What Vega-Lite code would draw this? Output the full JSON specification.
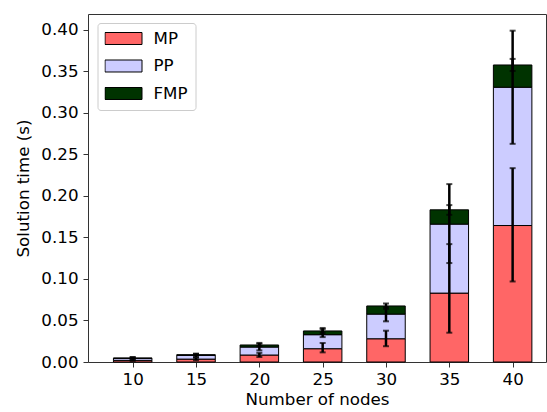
{
  "$schema": "https://vega.github.io/schema/vega-lite/v6.json",
  "width": 458,
  "height": 348,
  "autosize": {"type": "none"},
  "padding": {"left": 88, "top": 14, "right": 1, "bottom": 50},
  "config": {
    "font": "DejaVu Sans",
    "view": {"stroke": "#333333", "strokeWidth": 1},
    "axis": {
      "grid": false,
      "domain": false,
      "tickColor": "#333333",
      "tickSize": 5,
      "tickWidth": 1,
      "labelFontSize": 16.7,
      "labelColor": "black",
      "labelFont": "DejaVu Sans",
      "titleFontSize": 16.7,
      "titleFontWeight": "normal",
      "titleColor": "black",
      "titleFont": "DejaVu Sans"
    }
  },
  "datasets": {
    "bars": [
      {"nodes": 10, "part": "MP", "k": 1, "time": 0.0020},
      {"nodes": 10, "part": "PP", "k": 2, "time": 0.0023},
      {"nodes": 10, "part": "FMP", "k": 3, "time": 0.0006},
      {"nodes": 15, "part": "MP", "k": 1, "time": 0.0035},
      {"nodes": 15, "part": "PP", "k": 2, "time": 0.0045},
      {"nodes": 15, "part": "FMP", "k": 3, "time": 0.0008},
      {"nodes": 20, "part": "MP", "k": 1, "time": 0.0084},
      {"nodes": 20, "part": "PP", "k": 2, "time": 0.0096},
      {"nodes": 20, "part": "FMP", "k": 3, "time": 0.0025},
      {"nodes": 25, "part": "MP", "k": 1, "time": 0.0160},
      {"nodes": 25, "part": "PP", "k": 2, "time": 0.0169},
      {"nodes": 25, "part": "FMP", "k": 3, "time": 0.0045},
      {"nodes": 30, "part": "MP", "k": 1, "time": 0.0280},
      {"nodes": 30, "part": "PP", "k": 2, "time": 0.0297},
      {"nodes": 30, "part": "FMP", "k": 3, "time": 0.0098},
      {"nodes": 35, "part": "MP", "k": 1, "time": 0.0830},
      {"nodes": 35, "part": "PP", "k": 2, "time": 0.0831},
      {"nodes": 35, "part": "FMP", "k": 3, "time": 0.0172},
      {"nodes": 40, "part": "MP", "k": 1, "time": 0.1644},
      {"nodes": 40, "part": "PP", "k": 2, "time": 0.1666},
      {"nodes": 40, "part": "FMP", "k": 3, "time": 0.0268}
    ],
    "err": [
      {"nodes": 10, "part": "MP", "lo": 0.0012, "hi": 0.0028},
      {"nodes": 10, "part": "PP", "lo": 0.0030, "hi": 0.0056},
      {"nodes": 10, "part": "FMP", "lo": 0.0045, "hi": 0.0060},
      {"nodes": 15, "part": "MP", "lo": 0.0020, "hi": 0.0050},
      {"nodes": 15, "part": "PP", "lo": 0.0060, "hi": 0.0100},
      {"nodes": 15, "part": "FMP", "lo": 0.0080, "hi": 0.0098},
      {"nodes": 20, "part": "MP", "lo": 0.0060, "hi": 0.0110},
      {"nodes": 20, "part": "PP", "lo": 0.0140, "hi": 0.0220},
      {"nodes": 20, "part": "FMP", "lo": 0.0190, "hi": 0.0230},
      {"nodes": 25, "part": "MP", "lo": 0.0116, "hi": 0.0229},
      {"nodes": 25, "part": "PP", "lo": 0.0300, "hi": 0.0395},
      {"nodes": 25, "part": "FMP", "lo": 0.0350, "hi": 0.0410},
      {"nodes": 30, "part": "MP", "lo": 0.0190, "hi": 0.0377},
      {"nodes": 30, "part": "PP", "lo": 0.0490, "hi": 0.0660},
      {"nodes": 30, "part": "FMP", "lo": 0.0640, "hi": 0.0705},
      {"nodes": 35, "part": "MP", "lo": 0.0353, "hi": 0.1420},
      {"nodes": 35, "part": "PP", "lo": 0.1192, "hi": 0.2143},
      {"nodes": 35, "part": "FMP", "lo": 0.1773, "hi": 0.1890},
      {"nodes": 40, "part": "MP", "lo": 0.0970, "hi": 0.2335},
      {"nodes": 40, "part": "PP", "lo": 0.2628, "hi": 0.3991},
      {"nodes": 40, "part": "FMP", "lo": 0.3506, "hi": 0.3651}
    ]
  },
  "layer": [
    {
      "data": {"name": "bars"},
      "mark": {"type": "bar", "size": 38.5, "stroke": "black", "strokeWidth": 1},
      "encoding": {
        "x": {
          "field": "nodes", "type": "quantitative", "title": "Number of nodes",
          "scale": {"domain": [6.865, 42.24], "nice": false, "zero": false},
          "axis": {"values": [10, 15, 20, 25, 30, 35, 40], "labelPadding": 4, "titlePadding": 4, "labelFlush": false}
        },
        "y": {
          "field": "time", "type": "quantitative", "stack": "zero", "title": "Solution time (s)",
          "scale": {"domain": [0, 0.4192], "nice": false},
          "axis": {"values": [0, 0.05, 0.1, 0.15, 0.2, 0.25, 0.3, 0.35, 0.4], "format": ".2f", "labelPadding": 5, "titlePadding": 8}
        },
        "color": {
          "field": "part", "type": "nominal",
          "sort": ["MP", "PP", "FMP"],
          "scale": {"domain": ["MP", "PP", "FMP"], "range": ["#ff6666", "#ccccff", "#003300"]},
          "legend": {
            "title": null,
            "orient": "none",
            "legendX": 9.5,
            "legendY": 9,
            "symbolType": "M-1,-0.324H1V0.324H-1Z",
            "symbolSize": 1369,
            "symbolStrokeColor": "black",
            "symbolStrokeWidth": 1,
            "symbolOpacity": 1,
            "clipHeight": 17,
            "rowPadding": 9.5,
            "padding": 7,
            "labelFontSize": 16.7,
            "labelFont": "DejaVu Sans",
            "labelColor": "black",
            "labelOffset": 11,
            "fillColor": "white",
            "strokeColor": "#cccccc",
            "cornerRadius": 3
          }
        },
        "order": {"field": "k", "type": "quantitative"}
      }
    },
    {
      "data": {"name": "err"},
      "mark": {"type": "rule", "strokeWidth": 2.5, "color": "black"},
      "encoding": {
        "x": {"field": "nodes", "type": "quantitative", "title": "Number of nodes"},
        "y": {"field": "lo", "type": "quantitative", "title": "Solution time (s)"},
        "y2": {"field": "hi"}
      }
    },
    {
      "data": {"name": "err"},
      "mark": {"type": "tick", "orient": "horizontal", "size": 6, "thickness": 2, "color": "black"},
      "encoding": {
        "x": {"field": "nodes", "type": "quantitative", "title": "Number of nodes"},
        "y": {"field": "lo", "type": "quantitative", "title": "Solution time (s)"}
      }
    },
    {
      "data": {"name": "err"},
      "mark": {"type": "tick", "orient": "horizontal", "size": 6, "thickness": 2, "color": "black"},
      "encoding": {
        "x": {"field": "nodes", "type": "quantitative", "title": "Number of nodes"},
        "y": {"field": "hi", "type": "quantitative", "title": "Solution time (s)"}
      }
    }
  ]
}
